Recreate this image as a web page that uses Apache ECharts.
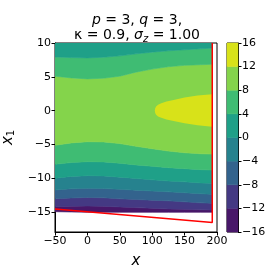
<!DOCTYPE html>
<html><head><meta charset="utf-8">
<script src="https://cdn.jsdelivr.net/npm/echarts@6/dist/echarts.min.js"></script>
<style>html,body{margin:0;padding:0;background:#fff}#c{width:274px;height:274px}</style>
</head><body><div id="c"></div>
<script>
// sample x positions of the contour boundaries
const XS       = [-50, -25, 0, 25, 50, 75, 100, 125, 150, 175, 192.7];
// y of each contour boundary at the XS positions
const Y_TOP    = [10, 10, 10, 10, 10, 10, 10, 10, 10, 10, 10];
const Y_L4_UP  = [7.95, 7.85, 7.8, 7.9, 8.1, 8.4, 8.65, 8.85, 9.0, 9.15, 9.25];
const Y_L8_UP  = [5.1, 4.85, 4.7, 4.8, 5.1, 5.7, 6.15, 6.5, 6.7, 6.8, 6.85];
const Y_L8_LO  = [-5.1, -4.75, -4.57, -4.6, -4.85, -5.25, -5.6, -5.95, -6.2, -6.35, -6.4];
const Y_L4_LO  = [-7.9, -7.65, -7.52, -7.55, -7.75, -8.0, -8.2, -8.4, -8.55, -8.7, -8.75];
const Y_L0     = [-9.97, -9.7, -9.58, -9.62, -9.8, -10.0, -10.2, -10.37, -10.5, -10.65, -10.7];
const Y_LM4    = [-11.7, -11.52, -11.45, -11.48, -11.6, -11.72, -11.85, -11.97, -12.1, -12.25, -12.33];
const Y_LM8    = [-13.0, -12.88, -12.8, -12.85, -13.0, -13.1, -13.2, -13.3, -13.45, -13.6, -13.66];
const Y_LM12   = [-14.16, -14.1, -14.06, -14.1, -14.2, -14.3, -14.4, -14.5, -14.55, -14.62, -14.65];
const Y_BOTTOM = [-14.9, -14.95, -15, -15, -15, -15, -15, -15, -15, -15, -15];
// yellow (12..16) region
const ELL_X  = [104, 104.6, 106, 109, 114, 122, 133, 150, 170, 192.7];
const ELL_UP = [0, 0.35, 0.62, 0.88, 1.1, 1.35, 1.6, 1.95, 2.25, 2.45];
const ELL_LO = [0, -0.33, -0.6, -0.85, -1.05, -1.28, -1.5, -1.85, -2.15, -2.35];
// red boundary line
const RED_X = [-50, 192.7, 192.7];
const RED_Y = [-14.5, -16.5, 10];
// contour levels and colours
const LEVELS = [-16, -12, -8, -4, 0, 4, 8, 12, 16];
const COLORS = ['#481769', '#443983', '#33638d', '#26828e', '#1fa088', '#3fbc73', '#84d44b', '#d8e219'];
const X_TICKS = [-50, 0, 50, 100, 150, 200];
const Y_TICKS = [-15, -10, -5, 0, 5, 10];

const bands = [
  {lo: Y_BOTTOM, hi: Y_LM12, c: 0},
  {lo: Y_LM12, hi: Y_LM8, c: 1},
  {lo: Y_LM8, hi: Y_LM4, c: 2},
  {lo: Y_LM4, hi: Y_L0, c: 3},
  {lo: Y_L0, hi: Y_L4_LO, c: 4},
  {lo: Y_L4_LO, hi: Y_L8_LO, c: 5},
  {lo: Y_L8_LO, hi: Y_L8_UP, c: 6},
  {lo: Y_L8_UP, hi: Y_L4_UP, c: 5},
  {lo: Y_L4_UP, hi: Y_TOP, c: 4}
];
const FONT = 'DejaVu Sans';
const fmt = v => String(v).replace('-', '\u2212');

const chart = echarts.init(document.getElementById('c'), null, {renderer: 'canvas'});
const axisCommon = {
  axisLine: {show: true, onZero: false, lineStyle: {color: '#000', width: 1}},
  axisTick: {show: true, inside: false, length: 3.5, lineStyle: {color: '#000', width: 1}},
  splitLine: {show: false},
  axisLabel: {color: '#000', fontSize: 11, fontFamily: FONT, formatter: fmt, margin: 4}
};
chart.setOption({
  animation: false,
  backgroundColor: '#fff',
  title: {
    left: 'center', top: 8,
    text: '{i|p} = 3, {i|q} = 3,\n\u03ba = 0.9, {i|\u03c3}{s|z} = 1.00',
    textStyle: {
      fontSize: 14, fontFamily: FONT, color: '#000', fontWeight: 'normal', lineHeight: 15,
      rich: {
        i: {fontSize: 14, fontFamily: FONT, fontStyle: 'italic', lineHeight: 15},
        s: {fontSize: 10, fontFamily: FONT, fontStyle: 'italic', padding: [7, 0, 0, 0], lineHeight: 15}
      }
    }
  },
  grid: [
    {left: 55, top: 43, width: 162, height: 189, show: true, borderColor: '#000', borderWidth: 1,
     backgroundColor: 'transparent', containLabel: false, outerBoundsMode: 'none'},
    {left: 227, top: 43, width: 11, height: 189, show: true, borderColor: '#000', borderWidth: 1,
     backgroundColor: 'transparent', containLabel: false, outerBoundsMode: 'none'}
  ],
  xAxis: [
    Object.assign({}, axisCommon, {
      type: 'value', gridIndex: 0, min: -50, max: 200, interval: 50,
      name: 'x', nameLocation: 'middle', nameGap: 22,
      nameTextStyle: {fontSize: 15, fontFamily: FONT, fontStyle: 'italic', color: '#000'}
    }),
    {type: 'value', gridIndex: 1, min: 0, max: 1, show: false}
  ],
  yAxis: [
    Object.assign({}, axisCommon, {
      type: 'value', gridIndex: 0, min: -17.9, max: 10,
      axisLabel: Object.assign({}, axisCommon.axisLabel, {customValues: Y_TICKS}),
      axisTick: Object.assign({}, axisCommon.axisTick, {customValues: Y_TICKS}),
      name: '{i|x}{s|1}', nameLocation: 'middle', nameGap: 30, nameRotate: 90,
      nameTextStyle: {fontSize: 15, fontFamily: FONT, color: '#000',
        rich: {i: {fontSize: 15, fontFamily: FONT, fontStyle: 'italic'},
               s: {fontSize: 10, fontFamily: FONT, padding: [7, 0, 0, 0]}}}
    }),
    Object.assign({}, axisCommon, {
      type: 'value', gridIndex: 1, min: -16, max: 16, interval: 4, position: 'right'
    })
  ],
  series: [
    {
      type: 'custom', xAxisIndex: 0, yAxisIndex: 0, silent: true, clip: true,
      data: bands.map((b, i) => [i]),
      renderItem: (params, api) => {
        const b = bands[params.dataIndex];
        const pts = [];
        for (let k = 0; k < XS.length; k++) pts.push(api.coord([XS[k], b.hi[k]]));
        for (let k = XS.length - 1; k >= 0; k--) pts.push(api.coord([XS[k], b.lo[k]]));
        const col = COLORS[b.c];
        return {type: 'polygon', shape: {points: pts}, style: {fill: col, stroke: col, lineWidth: 0.6}};
      }
    },
    {
      type: 'custom', xAxisIndex: 0, yAxisIndex: 0, silent: true, clip: true,
      data: [[0]],
      renderItem: (params, api) => {
        const pts = [];
        for (let k = 0; k < ELL_X.length; k++) pts.push(api.coord([ELL_X[k], ELL_UP[k]]));
        for (let k = ELL_X.length - 1; k >= 0; k--) pts.push(api.coord([ELL_X[k], ELL_LO[k]]));
        return {type: 'polygon', shape: {points: pts}, style: {fill: COLORS[7]}};
      }
    },
    {
      type: 'line', xAxisIndex: 0, yAxisIndex: 0, silent: true, symbol: 'none',
      data: RED_X.map((x, i) => [x, RED_Y[i]]),
      lineStyle: {color: '#ff0000', width: 1.5}, z: 5
    },
    {
      type: 'custom', xAxisIndex: 1, yAxisIndex: 1, silent: true,
      data: COLORS.map((c, i) => [i]),
      renderItem: (params, api) => {
        const i = params.dataIndex;
        const p0 = api.coord([0, LEVELS[i]]);
        const p1 = api.coord([1, LEVELS[i + 1]]);
        return {type: 'rect', shape: {x: p0[0], y: p1[1], width: p1[0] - p0[0], height: p0[1] - p1[1]},
                style: {fill: COLORS[i], stroke: COLORS[i], lineWidth: 0.5}};
      }
    }
  ]
});
</script></body></html>
